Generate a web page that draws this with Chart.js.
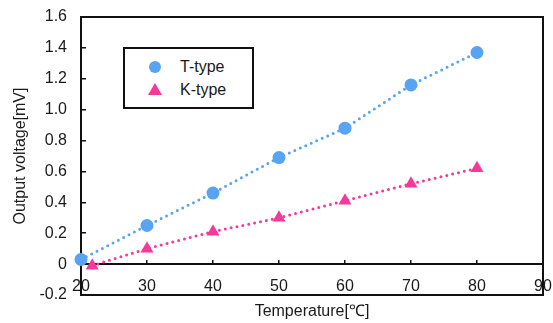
<!DOCTYPE html>
<html>
<head>
<meta charset="utf-8">
<script src="https://cdn.jsdelivr.net/npm/chart.js@4/dist/chart.umd.min.js"></script>
<style>
  body { margin: 0; background: #fff; }
  #wrap { position: relative; width: 553px; height: 323px; }
  #legend {
    position: absolute; left: 123px; top: 47px; width: 127px; height: 58px;
    border: 2px solid #111; background: #fff;
    font: 16px "Liberation Sans", Arial, sans-serif; color: #1a1a1a;
  }
  .item { position: absolute; left: 0; height: 20px; line-height: 20px; }
  .item span { position: absolute; left: 55px; white-space: nowrap; }
  .dot { position: absolute; left: 24px; top: 4px; width: 12px; height: 12px; border-radius: 50%; background: #58a4f2; }
  .tri { position: absolute; left: 23px; top: 3px; width: 0; height: 0;
    border-left: 7px solid transparent; border-right: 7px solid transparent; border-bottom: 12px solid #f5399a; }
</style>
</head>
<body>
<div id="wrap">
  <canvas id="tempChart" width="553" height="323"></canvas>
  <div id="legend">
    <div class="item" style="top:8px"><i class="dot"></i><span>T-type</span></div>
    <div class="item" style="top:31px"><i class="tri"></i><span>K-type</span></div>
  </div>
</div>
<script>
var tTemps = [20, 30, 40, 50, 60, 70, 80];
var tVolts = [0.03, 0.25, 0.46, 0.69, 0.88, 1.16, 1.37];
var kTemps = [21.7, 30, 40, 50, 60, 70, 80];
var kVolts = [-0.01, 0.10, 0.21, 0.30, 0.41, 0.52, 0.62];

var blue = '#58a4f2';
var pink = '#f5399a';

Chart.defaults.font.family = '"Liberation Sans", Arial, sans-serif';
Chart.defaults.font.size = 16;
Chart.defaults.color = '#1a1a1a';

// black frame round the plot area
var framePlugin = {
    id: 'frame',
    beforeDatasetsDraw: function(chart) {
        var a = chart.chartArea, ctx = chart.ctx;
        ctx.save();
        ctx.strokeStyle = '#111';
        ctx.lineWidth = 2;
        ctx.strokeRect(a.left, a.top, a.right - a.left, a.bottom - a.top);
        ctx.restore();
    }
};

var ctx = document.getElementById('tempChart');
var tempChart = new Chart(ctx, {
    type: 'scatter',
    data: {
        datasets: [{
            label: 'T-type',
            data: tTemps.map(function(t, i) { return {x: t, y: tVolts[i]}; }),
            showLine: true,
            borderColor: blue,
            backgroundColor: blue,
            borderWidth: 3,
            borderDash: [0, 6],
            borderCapStyle: 'round',
            pointStyle: 'circle',
            pointRadius: 6.5,
            pointBorderWidth: 0,
            clip: false
        }, {
            label: 'K-type',
            data: kTemps.map(function(t, i) { return {x: t, y: kVolts[i]}; }),
            showLine: true,
            borderColor: pink,
            backgroundColor: pink,
            borderWidth: 3,
            borderDash: [0, 6],
            borderCapStyle: 'round',
            pointStyle: 'triangle',
            pointRadius: 7.5,
            pointBorderWidth: 0,
            clip: false
        }]
    },
    options: {
        responsive: false,
        animation: false,
        layout: { padding: { left: 0, top: 17, right: 10, bottom: 0 } },
        plugins: {
            legend: { display: false },
            tooltip: { enabled: false }
        },
        scales: {
            x: {
                type: 'linear',
                position: 'bottom',
                min: 20, max: 90,
                ticks: { display: false },
                grid: { display: false },
                border: { display: false },
                afterFit: function(scale) { scale.height = 28; scale.paddingLeft = 0; scale.paddingRight = 0; },
                title: { display: true, text: 'Temperature[℃]', padding: { top: 7, bottom: 2 } }
            },
            x0: {
                type: 'linear',
                axis: 'x',
                position: { y: 0 },
                min: 20, max: 90,
                ticks: { stepSize: 10, padding: 18, maxRotation: 0 },
                grid: { drawOnChartArea: false, tickLength: -5, color: '#111', lineWidth: 1.5 },
                border: { display: true, color: '#111', width: 2 },
                afterFit: function(scale) { scale.height = 0; scale.paddingLeft = 0; scale.paddingRight = 0; scale.paddingTop = 0; scale.paddingBottom = 0; }
            },
            y: {
                min: -0.2, max: 1.6,
                afterFit: function(scale) { scale.width = 81; scale.paddingTop = 0; scale.paddingBottom = 0; },
                ticks: {
                    stepSize: 0.2,
                    padding: 19,
                    callback: function(v) { return Math.abs(v) < 1e-9 ? '0' : v.toFixed(1); }
                },
                grid: { drawOnChartArea: false, tickLength: -5, color: '#111', lineWidth: 1.5 },
                border: { display: false },
                title: { display: true, text: 'Output voltage[mV]', padding: { top: 11, bottom: 0 } }
            }
        }
    },
    plugins: [framePlugin]
});
</script>
</body>
</html>
